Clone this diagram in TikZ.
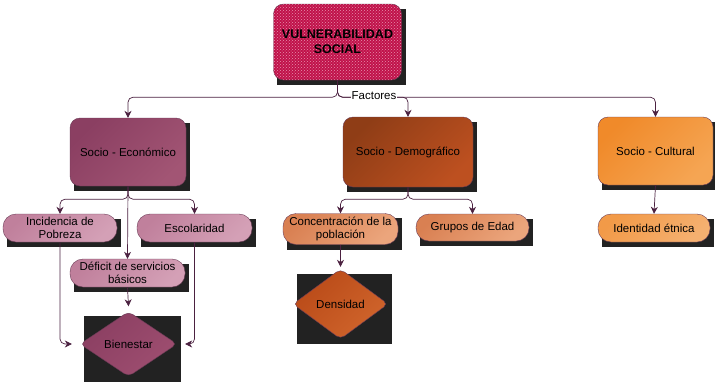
\documentclass[tikz,border=0pt]{standalone}
\usepackage{fontspec}
\setmainfont{Liberation Sans}
\usetikzlibrary{calc,patterns,shapes.geometric,arrows.meta,backgrounds}
\definecolor{linkc}{HTML}{4B2140}
\definecolor{edgec}{HTML}{6A3A55}
\definecolor{shadowc}{HTML}{222222}
\definecolor{crimsonc}{HTML}{C0124A}
\definecolor{dotc}{HTML}{E890AE}
\definecolor{econa}{HTML}{8B3F62}
\definecolor{econb}{HTML}{A25574}
\definecolor{econla}{HTML}{C0809C}
\definecolor{econlb}{HTML}{D4A0B6}
\definecolor{biena}{HTML}{8B3F62}
\definecolor{bienb}{HTML}{9E4E70}
\definecolor{demoa}{HTML}{8F3D16}
\definecolor{demob}{HTML}{BD5020}
\definecolor{demola}{HTML}{D98052}
\definecolor{demolb}{HTML}{EBA57C}
\definecolor{densa}{HTML}{B94A18}
\definecolor{densb}{HTML}{D0652C}
\definecolor{cula}{HTML}{F08A2A}
\definecolor{culb}{HTML}{F5A553}
\definecolor{culla}{HTML}{F29A48}
\definecolor{cullb}{HTML}{F5B070}
\def\shadowrect(#1){\fill[shadowc] ($(#1.west |- #1.south)+(4pt,-5pt)$) rectangle ($(#1.east |- #1.north)+(4pt,-5pt)$);}

\begin{document}
\begin{tikzpicture}[x=1pt,y=-1pt,
	txt/.style={font=\fontsize{11.5}{13.5}\selectfont, align=center},
	box/.style={txt, draw=edgec, line width=0.4pt, rounded corners=10pt, inner sep=1pt},
	pill/.style={txt, draw=edgec, line width=0.4pt, rounded corners=13pt, inner sep=1pt, minimum width=114pt, minimum height=28pt},
	gem/.style={txt, diamond, draw=edgec, line width=0.4pt, rounded corners=5pt, inner sep=1pt},
	tone/.style 2 args={top color=#1, bottom color=#2, shading angle=45},
	link/.style={draw=linkc, line width=0.7pt, rounded corners=5pt},
	tip/.style={-{Stealth[length=7pt,width=7pt]}}]
		%%%%% START %%%%%
		\useasboundingbox (0,0) rectangle (715,381);
		
		\node[box, preaction={fill=crimsonc}, pattern=crosshatch dots, pattern color=dotc, minimum width=128pt, minimum height=76pt, font=\fontsize{12.5}{14.5}\selectfont\bfseries] (vul) at (337.5,42) {VULNERABILIDAD\\SOCIAL};
		
		\node[box, tone={econa}{econb}, minimum width=116pt, minimum height=68pt] (soce) at (128,152) {Socio - Económico};
		\node[box, tone={demoa}{demob}, minimum width=130pt, minimum height=70pt] (socd) at (408,152) {Socio - Demográfico};
		\node[box, tone={cula}{culb}, minimum width=115pt, minimum height=68pt] (socc) at (655.5,151) {Socio - Cultural};
		
		\node[pill, tone={econla}{econlb}] (inc) at (60,228) {Incidencia de\\Pobreza};
		\node[pill, tone={econla}{econlb}, minimum width=115pt] (esc) at (194.5,228) {Escolaridad};
		\node[pill, tone={econla}{econlb}, minimum width=115pt] (def) at (127.5,273) {Déficit de servicios\\básicos};
		\node[gem, tone={biena}{bienb}, minimum width=97pt, minimum height=65pt] (bien) at (128.5,344) {Bienestar};
		
		\node[pill, tone={demola}{demolb}, minimum width=115pt, minimum height=31pt] (conc) at (340.5,229) {Concentración de la\\población};
		\node[pill, tone={demola}{demolb}, minimum width=113pt, minimum height=27pt] (grp) at (472.5,227.5) {Grupos de Edad};
		\node[gem, tone={densa}{densb}, minimum width=95pt, minimum height=70pt] (dens) at (340.5,304) {Densidad};
		
		\node[pill, tone={culla}{cullb}, minimum width=112pt] (ident) at (654,228) {Identidad étnica};
		
		\begin{pgfonlayer}{background}
			\foreach \n in {vul,soce,socd,socc,inc,esc,def,bien,conc,grp,dens,ident}{\shadowrect(\n)}
		\end{pgfonlayer}
		
		% first level
		\draw[link,tip] (vul.south) -- ++(0,17) -| (soce.north);
		\draw[link,tip] (vul.south) -- ++(0,17) -| (socd.north);
		\draw[link,tip] (vul.south) -- ++(0,17) -| (socc.north);
		\node[txt, fill=white, inner sep=0.5pt] (fact) at (374,96) {Factores};
		
		% socio - economico
		\draw[link,tip] (soce.south) -- ++(0,13) -| (inc.north);
		\draw[link,tip] (soce.south) -- ++(0,13) -| (esc.north);
		\draw[link,tip] (soce.south) -- (def.north);
		\coordinate (bienl) at ([xshift=-8pt]bien.west);
		\coordinate (bienr) at ([xshift=8pt]bien.east);
		\coordinate (bient) at ([yshift=5pt]bien.north);
		\draw[link,tip] (inc.south) |- (bienl);
		\draw[link,tip] (esc.south) |- (bienr);
		\draw[link,tip] (def.south) -- (bient);
		
		% socio - demografico
		\draw[link,tip] (socd.south) -- ++(0,12) -| (conc.north);
		\draw[link,tip] (socd.south) -- ++(0,12) -| (grp.north);
		\coordinate (denst) at ([yshift=2pt]dens.north);
		\draw[link,tip] (conc.south) -- (denst);
		
		% socio - cultural
		\draw[link,tip] (socc.south) -- (ident.north);
		%%%%% END %%%%%
	\end{tikzpicture}
\end{document}
